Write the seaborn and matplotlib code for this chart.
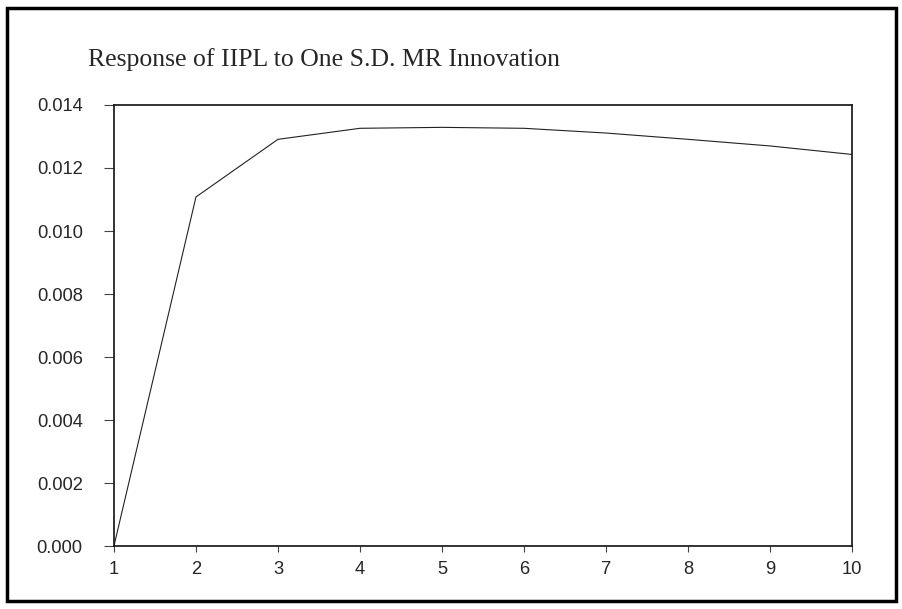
import numpy as np
import pandas as pd
import matplotlib
matplotlib.use("Agg")
import matplotlib.pyplot as plt
import matplotlib.patches as patches
import seaborn as sns

# Impulse response values
periods = [1, 2, 3, 4, 5, 6, 7, 8, 9, 10]
response = [0.0, 0.01108, 0.01291, 0.01326, 0.01329, 0.01326, 0.01311, 0.01291, 0.01270, 0.01243]
y_ticks = [0.000, 0.002, 0.004, 0.006, 0.008, 0.010, 0.012, 0.014]
title = "Response of IIPL to One S.D. MR Innovation"

df = pd.DataFrame({"period": periods, "response": response})

sns.set_style("white")
plt.rcParams['font.family'] = ['Liberation Sans', 'DejaVu Sans']

fig = plt.figure(figsize=(9.03, 6.09), dpi=100)
ax = fig.add_axes([0.1262, 0.1034, 0.8173, 0.7242])

sns.lineplot(data=df, x="period", y="response", ax=ax, color="#222222", linewidth=0.8)

ax.set_xlim(1, 10)
ax.set_ylim(0, 0.014)
ax.set_xticks(periods)
ax.set_xticklabels([str(p) for p in periods])
ax.set_yticks(y_ticks)
ax.set_yticklabels([f"{v:.3f}" for v in y_ticks])
ax.set_xlabel("")
ax.set_ylabel("")

for s in ax.spines.values():
    s.set_color("#111111")
    s.set_linewidth(1.2)

ax.tick_params(axis="y", left=True, direction="out", length=7.5, width=0.8, pad=15,
               labelsize=13.2, color="#444444")
ax.tick_params(axis="x", bottom=True, direction="out", length=4.5, width=0.8, pad=6,
               labelsize=13.2, color="#444444")

fig.text(88 / 903, 1 - 60 / 609, title, family=["Liberation Serif", "DejaVu Serif"],
         fontsize=18.5, va="center", ha="left")

# outer frame
frame = patches.Rectangle((7 / 903, 8 / 609), 889 / 903, 593 / 609,
                          transform=fig.transFigure, fill=False,
                          edgecolor="black", linewidth=2.5)
fig.patches.append(frame)

fig.savefig("out.png", dpi=100)
plt.close(fig)
